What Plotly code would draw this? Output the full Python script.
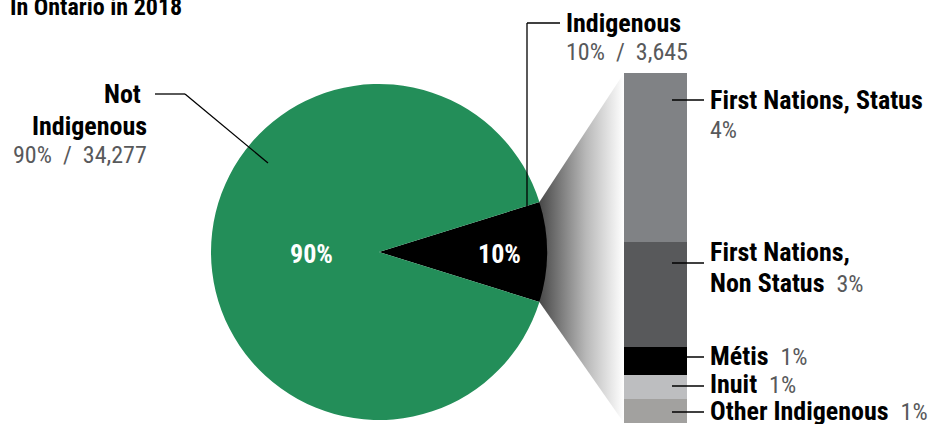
import math
import plotly.graph_objects as go

# ---------------- data ----------------
main_labels = ["Indigenous", "Not Indigenous"]
main_counts = [3645, 34277]
main_pct_labels = ["10%", "90%"]

sub_labels = ["First Nations, Status", "First Nations, Non Status", "Métis", "Inuit", "Other Indigenous"]
sub_counts = [1760, 1093, 292, 250, 250]
sub_pct_labels = ["4%", "3%", "1%", "1%", "1%"]

title_text = "In Ontario in 2018"

# ---------------- style ----------------
W, H = 945, 424
GREEN = "#238e59"
main_colors = ["#000000", GREEN]
sub_colors = ["#808285", "#58595b", "#000000", "#bdbec0", "#a2a19f"]
GRAY_TEXT = "#58595b"
FONT = "Roboto Condensed, Liberation Sans Narrow, sans-serif"
FS = 26
FS_GRAY = 24

# geometry (pixels)
cx, cy, r = 379, 252, 168
bar_x0, bar_x1 = 624, 687
bar_top, bar_bot = 73, 423

total_main = sum(main_counts)
total_sub = sum(sub_counts)
share = main_counts[0] / total_main
half = share * 180.0
rotation = 90 - half


def vy(py):
    """pixel y -> bar-axis value"""
    return (bar_bot - py) / (bar_bot - bar_top) * total_sub


def px(x):
    return x / W


def py(y):
    return 1 - y / H


fig = go.Figure()

# gradient connector between wedge and bar
a1 = math.radians(90 - half)
a2 = math.radians(90 + half)
p1 = (cx + r * math.sin(a1), cy - r * math.cos(a1))
p2 = (cx + r * math.sin(a2), cy - r * math.cos(a2))
poly_x = [p1[0], bar_x0, bar_x0, p2[0], p1[0]]
poly_y = [vy(p1[1]), vy(bar_top), vy(bar_bot), vy(p2[1]), vy(p1[1])]
fig.add_trace(go.Scatter(
    x=poly_x, y=poly_y, fill="toself", mode="lines", line=dict(width=0),
    fillgradient=dict(type="horizontal",
                      colorscale=[[0, "#484848"], [0.55, "#b8b8b8"], [1, "#ffffff"]]),
    hoverinfo="skip", showlegend=False))

# stacked bar (bottom-up order)
for lab, val, col in reversed(list(zip(sub_labels, sub_counts, sub_colors))):
    fig.add_trace(go.Bar(
        x=[(bar_x0 + bar_x1) / 2], y=[val], width=[bar_x1 - bar_x0], name=lab,
        marker=dict(color=col, line=dict(width=0)), hoverinfo="skip", showlegend=False))

# pie
fig.add_trace(go.Pie(
    labels=main_labels, values=main_counts, sort=False, direction="clockwise",
    rotation=rotation, textinfo="none", hoverinfo="skip",
    marker=dict(colors=main_colors, line=dict(width=0)),
    domain=dict(x=[px(cx - r), px(cx + r)], y=[py(cy + r), py(cy - r)]),
    showlegend=False))

ann = []


def text(x, y, t, anchor="left", color="#000000", size=FS):
    ann.append(dict(x=px(x), y=py(y), xref="paper", yref="paper", text=t,
                    showarrow=False, xanchor=anchor, yanchor="middle",
                    font=dict(family=FONT, size=size, color=color)))


sp = "\u00a0\u00a0"

# title (partly cut off at top)
text(8, 7, "<b>" + title_text + "</b>", size=24)

# pie labels
text(cx - 0.40 * r, cy + 2, "<b>" + main_pct_labels[1] + "</b>", anchor="center", color="white")
text(cx + 0.72 * r, cy + 2, "<b>" + main_pct_labels[0] + "</b>", anchor="center", color="white")

# Not Indigenous
text(143, 94, "<b>Not</b>", anchor="right")
text(149, 126, "<b>Indigenous</b>", anchor="right")
text(149, 155, f"{main_pct_labels[1]}{sp}/{sp}{main_counts[1]:,}", anchor="right",
     color=GRAY_TEXT, size=FS_GRAY)

# Indigenous
text(564, 23, "<b>" + main_labels[0] + "</b>")
text(564, 52, f"{main_pct_labels[0]}{sp}/{sp}{main_counts[0]:,}", color=GRAY_TEXT, size=FS_GRAY)

# sub labels
g = lambda s: f"<span style='color:{GRAY_TEXT}; font-weight:normal; font-size:{FS_GRAY}px'>{s}</span>"
LX = 708
text(LX, 100, "<b>" + sub_labels[0] + "</b>")
text(LX, 130, sub_pct_labels[0], color=GRAY_TEXT, size=FS_GRAY)
text(LX, 252, "<b>First Nations,</b>")
text(LX, 283, "<b>Non Status</b>" + sp + g(sub_pct_labels[1]))
text(LX, 356, "<b>" + sub_labels[2] + "</b>" + sp + g(sub_pct_labels[2]))
text(LX, 384, "<b>" + sub_labels[3] + "</b>" + sp + g(sub_pct_labels[3]))
text(LX, 411, "<b>" + sub_labels[4] + "</b>" + sp + g(sub_pct_labels[4]))

# leader lines
shapes = []


def seg(x0, y0, x1, y1, w=1.3):
    shapes.append(dict(type="line", xref="paper", yref="paper",
                       x0=px(x0), y0=py(y0), x1=px(x1), y1=py(y1),
                       line=dict(color="black", width=w)))


seg(155, 94, 185, 94)
seg(185, 94, 268, 163)
seg(527, 206, 527, 23)
seg(527, 23, 560, 23)
for yy in [100, 263, 357, 386, 412]:
    seg(672, yy, 704, yy, 1.5)

fig.update_layout(
    width=W, height=H, margin=dict(l=0, r=0, t=0, b=0),
    paper_bgcolor="white", plot_bgcolor="white", barmode="stack", bargap=0,
    showlegend=False,
    xaxis=dict(range=[0, W], visible=False, domain=[0, 1], fixedrange=True),
    yaxis=dict(range=[vy(H), vy(0)], visible=False, domain=[0, 1], fixedrange=True),
    annotations=ann, shapes=shapes,
    font=dict(family=FONT),
)

fig.write_html("out.html", config={"displayModeBar": False},
               post_script="document.body.style.margin='0px';")
